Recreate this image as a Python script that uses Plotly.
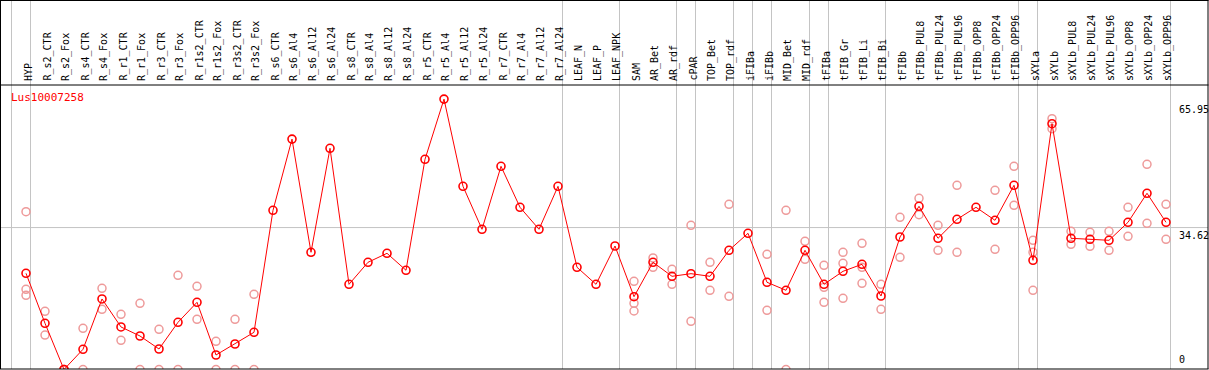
import plotly.graph_objects as go

categories = ["HYP", "R_s2_CTR", "R_s2_Fox", "R_s4_CTR", "R_s4_Fox", "R_r1_CTR", "R_r1_Fox",
              "R_r3_CTR", "R_r3_Fox", "R_r1s2_CTR", "R_r1s2_Fox", "R_r3s2_CTR", "R_r3s2_Fox",
              "R_s6_CTR", "R_s6_Al4", "R_s6_Al12", "R_s6_Al24", "R_s8_CTR", "R_s8_Al4",
              "R_s8_Al12", "R_s8_Al24", "R_r5_CTR", "R_r5_Al4", "R_r5_Al12", "R_r5_Al24",
              "R_r7_CTR", "R_r7_Al4", "R_r7_Al12", "R_r7_Al24", "LEAF_N", "LEAF_P", "LEAF_NPK",
              "SAM", "AR_Bet", "AR_rdf", "cPAR", "TOP_Bet", "TOP_rdf", "iFIBa", "iFIBb",
              "MID_Bet", "MID_rdf", "tFIBa", "tFIB_Gr", "tFIB_Li", "tFIB_Bi", "tFIBb",
              "tFIBb_PUL8", "tFIBb_PUL24", "tFIBb_PUL96", "tFIBb_OPP8", "tFIBb_OPP24",
              "tFIBb_OPP96", "sXYLa", "sXYLb", "sXYLb_PUL8", "sXYLb_PUL24", "sXYLb_PUL96",
              "sXYLb_OPP8", "sXYLb_OPP24", "sXYLb_OPP96"]

means = [23.46, 11.27, 0.0, 4.93, 17.2, 10.37, 8.17, 5.0, 11.51, 16.39, 3.54, 6.22, 9.07,
         38.83, 56.2, 28.59, 53.95, 20.78, 26.15, 28.34, 24.2, 51.27, 65.95, 44.68, 34.2,
         49.56, 39.56, 34.2, 44.68, 24.93, 20.78, 30.12, 17.76, 26.15, 22.73, 23.37, 22.73,
         29.07, 33.22, 21.27, 19.32, 29.07, 20.78, 23.95, 25.66, 17.93, 32.32, 39.8, 32.0,
         36.63, 39.56, 36.39, 44.93, 26.63, 59.95, 32.0, 31.76, 31.51, 35.9, 42.98, 35.9]

replicates = [[38.49, 19.56, 18.1], [14.2, 8.41], [0, 0], [10.05, 0], [19.8, 14.68],
              [13.46, 7.12], [16.15, 0], [9.8, 0], [22.98, 0], [20.29, 12.24], [6.88, 0],
              [12.24, 0], [18.34, 0],
              [], [], [], [], [], [], [], [], [], [], [], [], [], [], [], [], [], [], [],
              [21.51, 16.15, 14.27], [27.2, 24.93], [24.44, 20.78], [35.17, 11.76],
              [26.15, 19.32], [40.29, 17.85], [], [28.1, 14.44], [38.83, 0], [31.27, 26.88],
              [25.41, 20.05, 16.39], [28.59, 25.9, 17.37], [30.78, 24.93, 21.02],
              [20.78, 14.68], [37.12, 27.37], [41.76, 37.76], [35.17, 29.07], [44.93, 28.59],
              [], [43.71, 29.32], [49.56, 40.05], [31.51, 28.59, 19.32], [61.17, 58.73],
              [33.71, 30.54], [33.46, 30.05], [33.71, 29.07], [39.56, 32.49], [50.05, 35.66],
              [40.29, 31.76]]

group_ends = [-1, 0, 28, 31, 34, 35, 37, 38, 39, 41, 42, 45, 52, 53, 60]
gene = "Lus10007258"
ref_value = 34.62
max_label = "65.95"
min_label = "0"

W, H = 1209, 370
ML, MR, MT, MB = 1, 1, 85, 1
PW = W - ML - MR
PH = H - MT - MB

def py(p):
    # pixel (from top) -> paper y
    return (H - MB - p) / PH

def px(p):
    return (p - ML) / PW

idx = list(range(len(categories)))
rx, ry = [], []
for i, reps in enumerate(replicates):
    for v in reps:
        rx.append(i)
        ry.append(v)

fig = go.Figure()
fig.add_trace(go.Scatter(x=rx, y=ry, mode="markers",
                         marker=dict(symbol="circle-open", size=8, color="#ee9a9a",
                                     line=dict(width=1.5, color="#ee9a9a")),
                         hoverinfo="skip"))
fig.add_trace(go.Scatter(x=idx, y=means, mode="lines+markers",
                         line=dict(color="#ff0000", width=1),
                         marker=dict(symbol="circle-open", size=8, color="#ff0000",
                                     line=dict(width=1.6, color="#ff0000"))))

shapes = []
for g in group_ends:
    xv = g + 0.5 - 5 / 19
    shapes.append(dict(type="line", xref="x", yref="paper", x0=xv, x1=xv,
                       y0=0, y1=py(0), line=dict(color="#c4c4c4", width=1), layer="below"))
shapes.append(dict(type="line", xref="paper", yref="y", x0=0, x1=1, y0=ref_value, y1=ref_value,
                   line=dict(color="#c4c4c4", width=1), layer="below"))
# frame
shapes.append(dict(type="line", xref="paper", yref="paper", x0=px(0), x1=px(1208.5),
                   y0=py(0.5), y1=py(0.5), line=dict(color="black", width=1)))
shapes.append(dict(type="line", xref="paper", yref="paper", x0=px(0), x1=px(1208.5),
                   y0=py(85), y1=py(85), line=dict(color="black", width=1)))
shapes.append(dict(type="line", xref="paper", yref="paper", x0=px(0), x1=px(1208.5),
                   y0=py(369), y1=py(369), line=dict(color="black", width=1)))
shapes.append(dict(type="line", xref="paper", yref="paper", x0=px(0.5), x1=px(0.5),
                   y0=py(0), y1=py(369), line=dict(color="black", width=1)))
shapes.append(dict(type="line", xref="paper", yref="paper", x0=px(1208), x1=px(1208),
                   y0=py(0), y1=py(369), line=dict(color="black", width=1)))

mono = "DejaVu Sans Mono"
annotations = []
for i, c in enumerate(categories):
    annotations.append(dict(x=i, y=py(83), xref="x", yref="paper", text=c, textangle=-90,
                            showarrow=False, xanchor="center", yanchor="bottom", xshift=2,
                            font=dict(family=mono, size=10, color="black")))
annotations.append(dict(x=px(9), y=py(97), xref="paper", yref="paper", text=gene,
                        showarrow=False, xanchor="left", yanchor="middle",
                        font=dict(family=mono, size=11, color="#ff0000")))
annotations.append(dict(x=px(1177), y=py(102), xref="paper", yref="paper", text=max_label,
                        showarrow=False, xanchor="left", yanchor="top",
                        font=dict(family=mono, size=10, color="black")))
annotations.append(dict(x=px(1177), y=ref_value, xref="paper", yref="y", text=f"{ref_value:.2f}",
                        showarrow=False, xanchor="left", yanchor="top",
                        font=dict(family=mono, size=10, color="black")))
annotations.append(dict(x=px(1177), y=py(367), xref="paper", yref="paper", text=min_label,
                        showarrow=False, xanchor="left", yanchor="bottom",
                        font=dict(family=mono, size=10, color="black")))

k = 4.1
y_bottom = (369.5 - (H - MB)) / k
y_top = (369.5 - MT) / k
x_left = (ML - 26) / 19
x_right = (W - MR - 26) / 19

fig.update_layout(
    width=W, height=H,
    margin=dict(l=ML, r=MR, t=MT, b=MB, pad=0),
    paper_bgcolor="white", plot_bgcolor="white",
    showlegend=False,
    xaxis=dict(range=[x_left, x_right], showgrid=False, zeroline=False, showticklabels=False,
               ticks="", showline=False),
    yaxis=dict(range=[y_bottom, y_top], showgrid=False, zeroline=False, showticklabels=False,
               ticks="", showline=False),
    shapes=shapes, annotations=annotations,
)

fig.write_html("out.html", config={"displayModeBar": False},
               post_script="document.body.style.margin='0px';document.body.style.overflow='hidden';")
